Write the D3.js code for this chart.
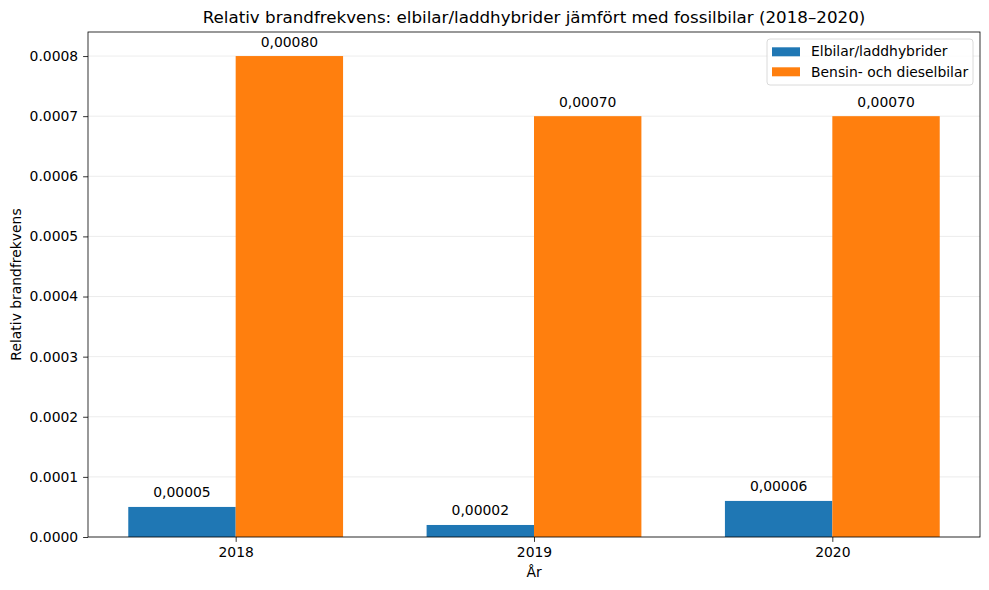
<!DOCTYPE html>
<html><head><meta charset="utf-8">
<script src="https://cdn.jsdelivr.net/npm/d3@7"></script>
<style>body{margin:0;background:#fff}svg{font-family:"DejaVu Sans",sans-serif}</style>
</head><body><svg id="c" width="989" height="590"></svg>
<script>
const years = ["2018", "2019", "2020"];
const seriesNames = ["Elbilar/laddhybrider", "Bensin- och dieselbilar"];
const elValues = [0.00005, 0.00002, 0.00006];
const fossilValues = [0.0008, 0.0007, 0.0007];
const yTicks = [0, 0.0001, 0.0002, 0.0003, 0.0004, 0.0005, 0.0006, 0.0007, 0.0008];
const colors = ["#1f77b4", "#ff7f0e"];

const svg = d3.select("#c");
const L = 88, R = 980, T = 32, B = 537;
const barW = 0.36;
const FS = 13.9;
const x = d3.scaleLinear().domain([-0.495, 2.495]).range([L, R]);
const y = d3.scaleLinear().domain([0, 0.00084]).range([B, T]);

// grid
svg.append("g").selectAll("line").data(yTicks).join("line")
  .attr("x1", L).attr("x2", R).attr("y1", d => y(d)).attr("y2", d => y(d))
  .attr("stroke", "#b0b0b0").attr("stroke-opacity", 0.3).attr("stroke-width", 0.8);

const series = [elValues, fossilValues];
series.forEach((vals, si) => {
  const off = si === 0 ? -barW : 0;
  const g = svg.append("g");
  g.selectAll("rect").data(vals).join("rect")
    .attr("x", (d, i) => x(i + off)).attr("width", (d, i) => x(i + off + barW) - x(i + off))
    .attr("y", d => y(d)).attr("height", d => B - y(d)).attr("fill", colors[si]);
  g.selectAll("text").data(vals).join("text")
    .attr("x", (d, i) => x(i + off + barW / 2)).attr("y", d => y(d) - 9.5)
    .attr("text-anchor", "middle").attr("font-size", FS).attr("fill", "#000")
    .text(d => d.toFixed(5).replace(".", ","));
});

// axes
const yAxis = d3.axisLeft(y).tickValues(yTicks).tickFormat(d => d.toFixed(4)).tickSize(4.9).tickPadding(4.9);
const gy = svg.append("g").attr("transform", `translate(${L},0)`).call(yAxis);
const xAxis = d3.axisBottom(x).tickValues([0, 1, 2]).tickFormat(i => years[i]).tickSize(4.9).tickPadding(4.9);
const gx = svg.append("g").attr("transform", `translate(0,${B})`).call(xAxis);
[gy, gx].forEach(g => {
  g.select(".domain").remove();
  g.selectAll("text").attr("font-size", FS).attr("fill", "#000").attr("font-family", "DejaVu Sans");
  g.selectAll("line").attr("stroke", "#000").attr("stroke-width", 0.8);
});
svg.append("rect").attr("x", L).attr("y", T).attr("width", R - L).attr("height", B - T)
  .attr("fill", "none").attr("stroke", "#000").attr("stroke-width", 0.8);

// labels
svg.append("text").attr("x", (L + R) / 2).attr("y", 23).attr("text-anchor", "middle")
  .attr("font-size", 16.7).text("Relativ brandfrekvens: elbilar/laddhybrider jämfört med fossilbilar (2018–2020)");
svg.append("text").attr("x", (L + R) / 2).attr("y", 577).attr("text-anchor", "middle")
  .attr("font-size", FS).text("År");
svg.append("text").attr("transform", `translate(20.5,${(T + B) / 2}) rotate(-90)`).attr("text-anchor", "middle")
  .attr("font-size", FS).text("Relativ brandfrekvens");

// legend
const lg = svg.append("g");
lg.append("rect").attr("x", 767).attr("y", 39).attr("width", 206).attr("height", 46).attr("rx", 3)
  .attr("fill", "#fff").attr("fill-opacity", 0.8).attr("stroke", "#d0d0d0").attr("stroke-width", 0.8);
seriesNames.forEach((n, i) => {
  lg.append("rect").attr("x", 772).attr("y", 47.3 + i * 20).attr("width", 28).attr("height", 9).attr("fill", colors[i]);
  lg.append("text").attr("x", 811).attr("y", 56 + i * 20.5).attr("font-size", FS).text(n);
});
</script></body></html>
